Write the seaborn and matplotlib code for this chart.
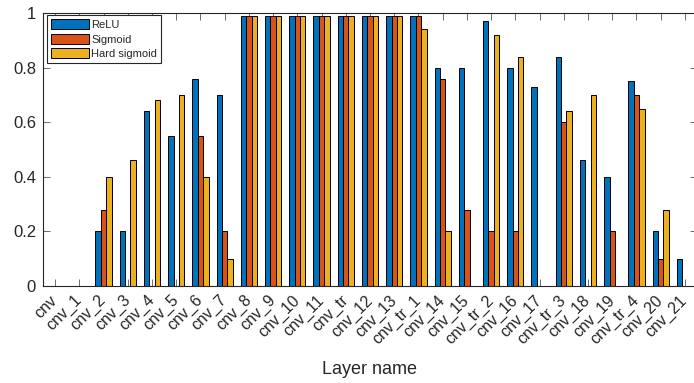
import numpy as np
import pandas as pd
import matplotlib
matplotlib.use("Agg")
import matplotlib.pyplot as plt
import seaborn as sns

layers = ["cnv", "cnv_1", "cnv_2", "cnv_3", "cnv_4", "cnv_5", "cnv_6", "cnv_7",
          "cnv_8", "cnv_9", "cnv_10", "cnv_11", "cnv_tr", "cnv_12", "cnv_13",
          "cnv_tr_1", "cnv_14", "cnv_15", "cnv_tr_2", "cnv_16", "cnv_17",
          "cnv_tr_3", "cnv_18", "cnv_19", "cnv_tr_4", "cnv_20", "cnv_21"]
relu = [0, 0, 0.20, 0.20, 0.64, 0.55, 0.76, 0.70,
        0.99, 0.99, 0.99, 0.99, 0.99, 0.99, 0.99,
        0.99, 0.80, 0.80, 0.97, 0.80, 0.73,
        0.84, 0.46, 0.40, 0.75, 0.20, 0.10]
sigmoid = [0, 0, 0.28, 0, 0, 0, 0.55, 0.20,
           0.99, 0.99, 0.99, 0.99, 0.99, 0.99, 0.99,
           0.99, 0.76, 0.28, 0.20, 0.20, 0,
           0.60, 0, 0.20, 0.70, 0.10, 0]
hard_sigmoid = [0, 0, 0.40, 0.46, 0.68, 0.70, 0.40, 0.10,
                0.99, 0.99, 0.99, 0.99, 0.99, 0.99, 0.99,
                0.94, 0.20, 0, 0.92, 0.84, 0,
                0.64, 0.70, 0, 0.65, 0.28, 0]
series_names = ["ReLU", "Sigmoid", "Hard sigmoid"]
colors = ["#0072BD", "#D95319", "#EDB120"]
yticks = [0, 0.2, 0.4, 0.6, 0.8, 1]
ytick_labels = ["0", "0.2", "0.4", "0.6", "0.8", "1"]

df = pd.DataFrame({
    "Layer": layers * 3,
    "Value": relu + sigmoid + hard_sigmoid,
    "Activation": [s for s in series_names for _ in layers],
})

sns.set_theme(style="white")
plt.rcParams["font.family"] = ["Liberation Sans", "DejaVu Sans"]
text_color = "#262626"

fig = plt.figure(figsize=(6.94, 3.83), dpi=100)
W, H = 694, 383
ax = fig.add_axes([43 / W, (H - 286) / H, (697 - 43) / W, (286 - 13) / H])

sns.barplot(data=df, x="Layer", y="Value", hue="Activation",
            order=layers, hue_order=series_names, palette=colors,
            saturation=1, width=0.667, edgecolor="black", linewidth=0.7,
            ax=ax, errorbar=None)

ax.set_xlim(-0.5, len(layers) - 0.5)
ax.set_ylim(0, 1)
ax.set_yticks(yticks)
ax.set_yticklabels(ytick_labels, fontsize=12, color=text_color)
ax.set_xticks(range(len(layers)))
ax.set_xticklabels(layers, rotation=45, ha="right", va="center",
                   rotation_mode="anchor", fontsize=11.5, color=text_color)
ax.set_xlabel("Layer name", fontsize=13, color=text_color, labelpad=10)
ax.set_ylabel("")

for sp in ax.spines.values():
    sp.set_visible(True)
    sp.set_color(text_color)
    sp.set_linewidth(0.8)

ax.tick_params(axis="both", which="major", direction="in", length=5, width=0.6,
               color="#555555", top=True, right=True, bottom=True, left=True,
               pad=5)
ax.tick_params(axis="x", pad=8.5)

leg = ax.legend(loc="upper left", bbox_to_anchor=(0.006, 0.991), borderaxespad=0,
                fontsize=8, frameon=True, fancybox=False, framealpha=1,
                edgecolor=text_color, handlelength=3.4, handleheight=1.0,
                handletextpad=0.25, labelspacing=0.33, borderpad=0.35)
leg.get_frame().set_linewidth(0.8)
for t in leg.get_texts():
    t.set_color(text_color)

fig.savefig("out.png", dpi=100, facecolor="white")
